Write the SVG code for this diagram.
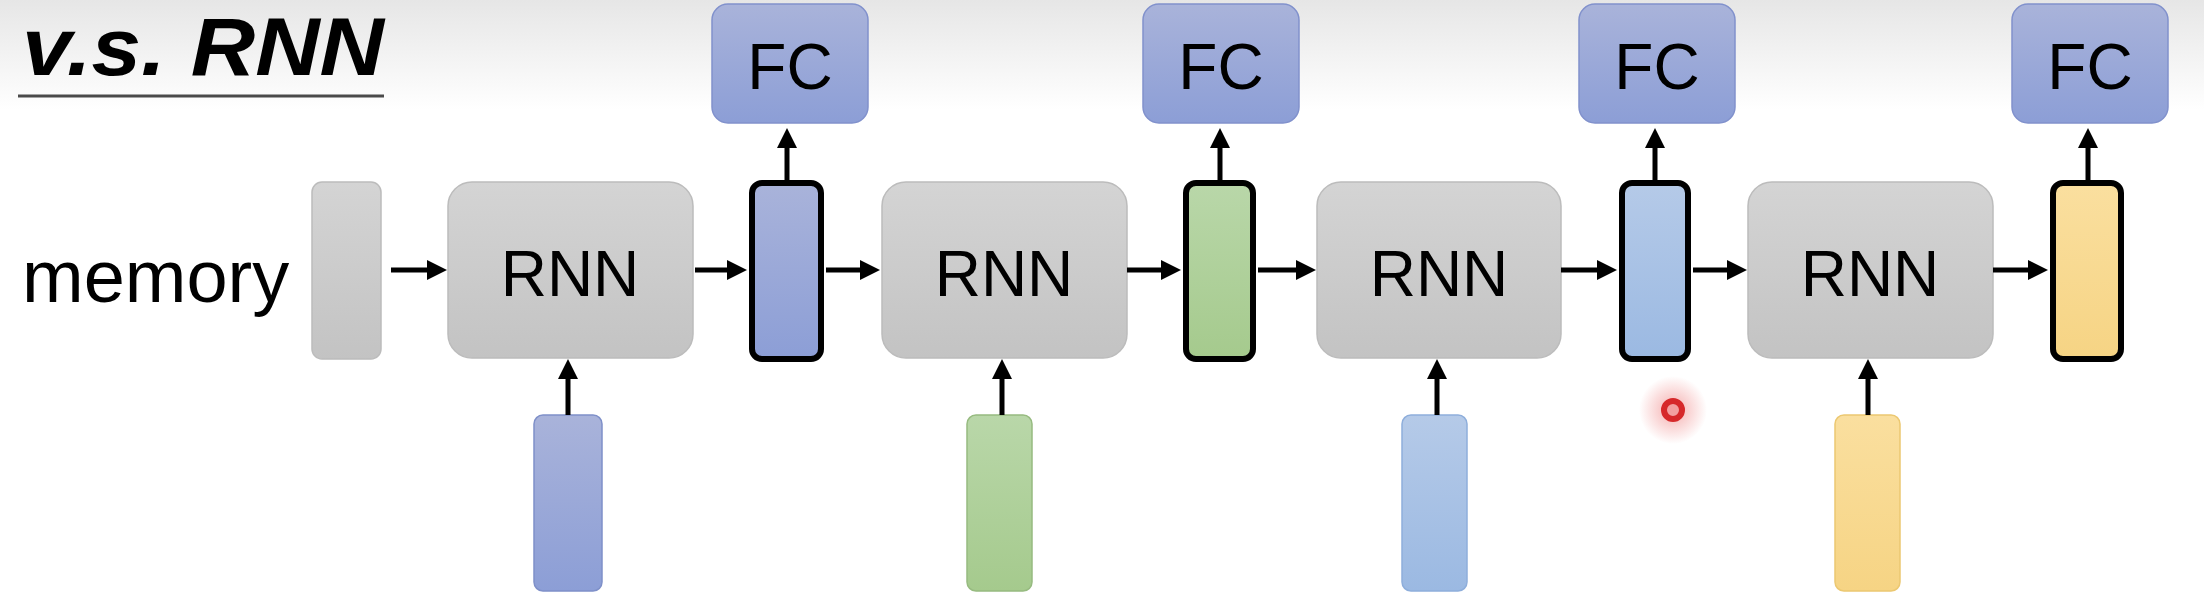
<svg xmlns="http://www.w3.org/2000/svg" width="2204" height="608" viewBox="0 0 2204 608">
  <defs>
    <linearGradient id="bgTop" x1="0" y1="0" x2="0" y2="1">
      <stop offset="0" stop-color="#e6e6e6"/>
      <stop offset="1" stop-color="#ffffff"/>
    </linearGradient>
    <linearGradient id="gGray" x1="0" y1="0" x2="0" y2="1">
      <stop offset="0" stop-color="#d4d4d4"/>
      <stop offset="1" stop-color="#c3c3c3"/>
    </linearGradient>
    <linearGradient id="gBlue" x1="0" y1="0" x2="0" y2="1">
      <stop offset="0" stop-color="#a9b3da"/>
      <stop offset="1" stop-color="#8c9ed6"/>
    </linearGradient>
    <linearGradient id="gGreen" x1="0" y1="0" x2="0" y2="1">
      <stop offset="0" stop-color="#b9d7a9"/>
      <stop offset="1" stop-color="#a5ca8d"/>
    </linearGradient>
    <linearGradient id="gLBlue" x1="0" y1="0" x2="0" y2="1">
      <stop offset="0" stop-color="#b5cae8"/>
      <stop offset="1" stop-color="#9bb9e2"/>
    </linearGradient>
    <linearGradient id="gYellow" x1="0" y1="0" x2="0" y2="1">
      <stop offset="0" stop-color="#fadf9f"/>
      <stop offset="1" stop-color="#f6d484"/>
    </linearGradient>
    <radialGradient id="glow" cx="0.5" cy="0.5" r="0.5">
      <stop offset="0" stop-color="#e84a4a" stop-opacity="0.45"/>
      <stop offset="1" stop-color="#e84a4a" stop-opacity="0"/>
    </radialGradient>
    <marker id="ah" markerUnits="userSpaceOnUse" markerWidth="22" markerHeight="20" refX="2" refY="10" orient="auto">
      <path d="M0,0 L20,10 L0,20 Z" fill="#000"/>
    </marker>
    <style>
      .gray { fill: url(#gGray); stroke: #bcbcbc; stroke-width: 1.5; }
      .fc { fill: url(#gBlue); stroke: #8191cc; stroke-width: 1.5; }
      .out { stroke: #000; stroke-width: 6; }
      .inBlue { fill: url(#gBlue); stroke: #7f90c9; stroke-width: 1.5; }
      .inGreen { fill: url(#gGreen); stroke: #97bb80; stroke-width: 1.5; }
      .inLBlue { fill: url(#gLBlue); stroke: #8eaedb; stroke-width: 1.5; }
      .inYellow { fill: url(#gYellow); stroke: #ecc871; stroke-width: 1.5; }
      .lbl { font-family: "Liberation Sans", Arial, sans-serif; fill: #000; text-anchor: middle; }
      .arr { stroke: #000; stroke-width: 5; fill: none; marker-end: url(#ah); }
    </style>
  </defs>

  <rect x="0" y="0" width="2204" height="608" fill="#ffffff"/>
  <rect x="0" y="0" width="2204" height="110" fill="url(#bgTop)"/>

  <g id="title">
    <text x="22" y="75" font-family="Liberation Sans, Arial, sans-serif" font-weight="bold" font-style="italic" font-size="82" textLength="362" lengthAdjust="spacingAndGlyphs" fill="#000">v.s. RNN</text>
    <line x1="18" y1="96" x2="384" y2="96" stroke="#4a4a4a" stroke-width="3"/>
  </g>

  <g id="memory-label">
    <text x="22" y="302" font-family="Liberation Sans, Arial, sans-serif" font-size="74" fill="#000">memory</text>
  </g>

  <g id="memory">
    <rect class="gray" x="312" y="182" width="69" height="177" rx="10"/>
  </g>

  <g id="rnn1">
    <rect class="gray" x="448" y="182" width="245" height="176" rx="24"/>
    <text class="lbl" x="570" y="296" font-size="64">RNN</text>
  </g>
  <g id="rnn2">
    <rect class="gray" x="882" y="182" width="245" height="176" rx="24"/>
    <text class="lbl" x="1004" y="296" font-size="64">RNN</text>
  </g>
  <g id="rnn3">
    <rect class="gray" x="1317" y="182" width="244" height="176" rx="24"/>
    <text class="lbl" x="1439" y="296" font-size="64">RNN</text>
  </g>
  <g id="rnn4">
    <rect class="gray" x="1748" y="182" width="245" height="176" rx="24"/>
    <text class="lbl" x="1870" y="296" font-size="64">RNN</text>
  </g>

  <g id="out1"><rect class="out" x="752" y="183" width="69" height="176" rx="10" fill="url(#gBlue)"/></g>
  <g id="out2"><rect class="out" x="1186" y="183" width="67" height="176" rx="10" fill="url(#gGreen)"/></g>
  <g id="out3"><rect class="out" x="1622" y="183" width="66" height="176" rx="10" fill="url(#gLBlue)"/></g>
  <g id="out4"><rect class="out" x="2053" y="183" width="68" height="176" rx="10" fill="url(#gYellow)"/></g>

  <g id="fc1">
    <rect class="fc" x="712" y="4" width="156" height="119" rx="16"/>
    <text class="lbl" x="790" y="89" font-size="64">FC</text>
  </g>
  <g id="fc2">
    <rect class="fc" x="1143" y="4" width="156" height="119" rx="16"/>
    <text class="lbl" x="1221" y="89" font-size="64">FC</text>
  </g>
  <g id="fc3">
    <rect class="fc" x="1579" y="4" width="156" height="119" rx="16"/>
    <text class="lbl" x="1657" y="89" font-size="64">FC</text>
  </g>
  <g id="fc4">
    <rect class="fc" x="2012" y="4" width="156" height="119" rx="16"/>
    <text class="lbl" x="2090" y="89" font-size="64">FC</text>
  </g>

  <g id="in1"><rect class="inBlue" x="534" y="415" width="68" height="176" rx="9"/></g>
  <g id="in2"><rect class="inGreen" x="967" y="415" width="65" height="176" rx="9"/></g>
  <g id="in3"><rect class="inLBlue" x="1402" y="415" width="65" height="176" rx="9"/></g>
  <g id="in4"><rect class="inYellow" x="1835" y="415" width="65" height="176" rx="9"/></g>

  <g id="connectors">
    <line class="arr" x1="391" y1="270" x2="429" y2="270"/>
    <line class="arr" x1="695" y1="270" x2="729" y2="270"/>
    <line class="arr" x1="826" y1="270" x2="862" y2="270"/>
    <line class="arr" x1="1127" y1="270" x2="1163" y2="270"/>
    <line class="arr" x1="1258" y1="270" x2="1298" y2="270"/>
    <line class="arr" x1="1561" y1="270" x2="1599" y2="270"/>
    <line class="arr" x1="1693" y1="270" x2="1729" y2="270"/>
    <line class="arr" x1="1993" y1="270" x2="2030" y2="270"/>

    <line class="arr" x1="787" y1="181" x2="787" y2="146"/>
    <line class="arr" x1="1220" y1="181" x2="1220" y2="146"/>
    <line class="arr" x1="1655" y1="181" x2="1655" y2="146"/>
    <line class="arr" x1="2088" y1="181" x2="2088" y2="146"/>

    <line class="arr" x1="568" y1="415" x2="568" y2="377"/>
    <line class="arr" x1="1002" y1="415" x2="1002" y2="377"/>
    <line class="arr" x1="1437" y1="415" x2="1437" y2="377"/>
    <line class="arr" x1="1868" y1="415" x2="1868" y2="377"/>
  </g>

  <g id="pointer">
    <circle cx="1673" cy="410" r="34" fill="url(#glow)"/>
    <circle cx="1673" cy="410" r="9" fill="#f2a0a0" stroke="#d6282a" stroke-width="6"/>
  </g>
</svg>
